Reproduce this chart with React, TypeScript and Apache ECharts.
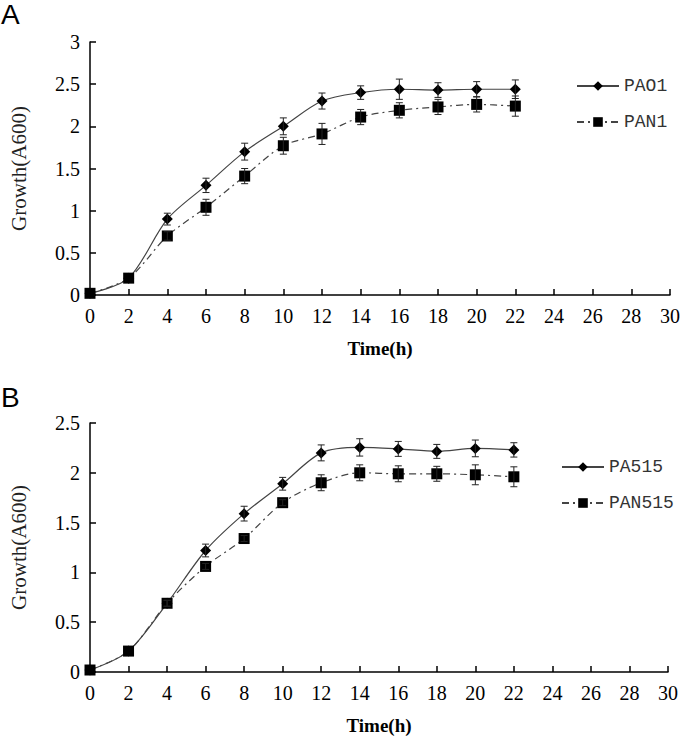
import React, { useEffect, useRef } from "react";
import * as echarts from "echarts";

const hours = [0, 2, 4, 6, 8, 10, 12, 14, 16, 18, 20, 22];
const xTicks = { min: 0, max: 30, interval: 2 };

const pao1 = [0.02, 0.2, 0.9, 1.3, 1.7, 2.0, 2.3, 2.4, 2.44, 2.43, 2.44, 2.44];
const pao1Err = [0, 0.02, 0.07, 0.085, 0.1, 0.1, 0.095, 0.08, 0.12, 0.087, 0.09, 0.11];
const pan1 = [0.02, 0.2, 0.7, 1.04, 1.41, 1.77, 1.91, 2.11, 2.19, 2.23, 2.26, 2.24];
const pan1Err = [0, 0.02, 0.05, 0.095, 0.09, 0.1, 0.125, 0.09, 0.09, 0.09, 0.09, 0.12];

const pa515 = [0.02, 0.21, 0.69, 1.22, 1.59, 1.89, 2.2, 2.255, 2.24, 2.215, 2.245, 2.23];
const pa515Err = [0, 0.02, 0.03, 0.064, 0.074, 0.064, 0.08, 0.087, 0.075, 0.07, 0.084, 0.072];
const pan515 = [0.02, 0.21, 0.69, 1.06, 1.34, 1.7, 1.9, 2.0, 1.99, 1.99, 1.98, 1.96];
const pan515Err = [0, 0.02, 0.03, 0.03, 0.03, 0.03, 0.08, 0.08, 0.08, 0.075, 0.1, 0.1];

const serif = "Liberation Serif";
const mono = "Liberation Mono";

function pts(vals: number[]) {
  return hours.map((h, i) => [h, vals[i]]);
}
function errs(vals: number[], e: number[]) {
  return hours.map((h, i) => [h, vals[i] - e[i], vals[i] + e[i]]).filter((_, i) => e[i] > 0.025);
}

const renderErr = (params: any, api: any) => {
  const x = api.value(0);
  const lo = api.value(1);
  const hi = api.value(2);
  const a = api.coord([x, hi]);
  const b = api.coord([x, lo]);
  const w = 3.5;
  const st = { stroke: "#222", lineWidth: 1 };
  return {
    type: "group",
    children: [
      { type: "line", shape: { x1: a[0], y1: a[1], x2: b[0], y2: b[1] }, style: st },
      { type: "line", shape: { x1: a[0] - w, y1: a[1], x2: a[0] + w, y2: a[1] }, style: st },
      { type: "line", shape: { x1: b[0] - w, y1: b[1], x2: b[0] + w, y2: b[1] }, style: st },
    ],
  };
};

export default function App() {
  const ref = useRef<HTMLDivElement>(null);
  useEffect(() => {
    document.body.style.margin = "0";
    const chart = echarts.init(ref.current!, null, { renderer: "svg" });
    const xAxis = (gi: number) => ({
      type: "value",
      gridIndex: gi,
      ...xTicks,
      name: "Time(h)",
      nameLocation: "middle",
      nameGap: 44,
      nameTextStyle: { fontFamily: serif, fontWeight: "bold", fontSize: 19, color: "#000" },
      axisLine: { lineStyle: { color: "#000", width: 1.5 } },
      axisTick: { inside: true, length: 6, lineStyle: { color: "#000", width: 1.5 } },
      axisLabel: { fontFamily: serif, fontSize: 20, color: "#000", margin: 11 },
      splitLine: { show: false },
    });
    const yAxis = (gi: number, max: number) => ({
      type: "value",
      gridIndex: gi,
      min: 0,
      max,
      interval: 0.5,
      name: "Growth(A600)",
      nameLocation: "middle",
      nameGap: 61,
      nameTextStyle: { fontFamily: serif, fontSize: 21, color: "#222" },
      axisLine: { show: true, lineStyle: { color: "#000", width: 1.5 } },
      axisTick: { show: true, inside: true, length: 6, lineStyle: { color: "#000", width: 1.5 } },
      axisLabel: { fontFamily: serif, fontSize: 20, color: "#000", margin: 10 },
      splitLine: { show: false },
    });
    const solid = (name: string, data: number[], gi: number) => ({
      name,
      type: "line",
      xAxisIndex: gi,
      yAxisIndex: gi,
      data: pts(data),
      smooth: 0.3,
      symbol: "diamond",
      symbolSize: 11,
      itemStyle: { color: "#000" },
      lineStyle: { color: "#444", width: 1.2, type: "solid" },
      z: 3,
    });
    const dashed = (name: string, data: number[], gi: number) => ({
      name,
      type: "line",
      xAxisIndex: gi,
      yAxisIndex: gi,
      data: pts(data),
      smooth: 0.3,
      symbol: "rect",
      symbolSize: 11,
      itemStyle: { color: "#000" },
      lineStyle: { color: "#444", width: 1.2, type: [7, 4, 2, 4] },
      z: 3,
    });
    const errSeries = (vals: number[], e: number[], gi: number) => ({
      type: "custom",
      xAxisIndex: gi,
      yAxisIndex: gi,
      data: errs(vals, e),
      renderItem: renderErr,
      z: 4,
      silent: true,
    });
    const legend = (names: string[], left: number, top: number) => ({
      data: names,
      orient: "vertical",
      left,
      top,
      padding: 0,
      itemWidth: 42,
      itemHeight: 12,
      itemGap: 18,
      textStyle: { fontFamily: mono, fontSize: 18, color: "#333" },
    });
    chart.setOption({
      animation: false,
      backgroundColor: "#fff",
      grid: [
        { left: 86, top: 42, right: 12, height: 253 },
        { left: 83, top: 423, right: 15, height: 249 },
      ],
      xAxis: [xAxis(0), xAxis(1)],
      yAxis: [yAxis(0, 3), yAxis(1, 2.5)],
      legend: [legend(["PAO1", "PAN1"], 576, 77), legend(["PA515", "PAN515"], 561, 458)],
      graphic: [
        { type: "text", left: 1, top: 0, style: { text: "A", font: "28px Liberation Sans", fill: "#000" } },
        { type: "text", left: 1, top: 383, style: { text: "B", font: "28px Liberation Sans", fill: "#000" } },
      ],
      series: [
        solid("PAO1", pao1, 0),
        dashed("PAN1", pan1, 0),
        errSeries(pao1, pao1Err, 0),
        errSeries(pan1, pan1Err, 0),
        solid("PA515", pa515, 1),
        dashed("PAN515", pan515, 1),
        errSeries(pa515, pa515Err, 1),
        errSeries(pan515, pan515Err, 1),
      ],
    });
    return () => chart.dispose();
  }, []);
  return <div ref={ref} style={{ width: 683, height: 741 }} />;
}
